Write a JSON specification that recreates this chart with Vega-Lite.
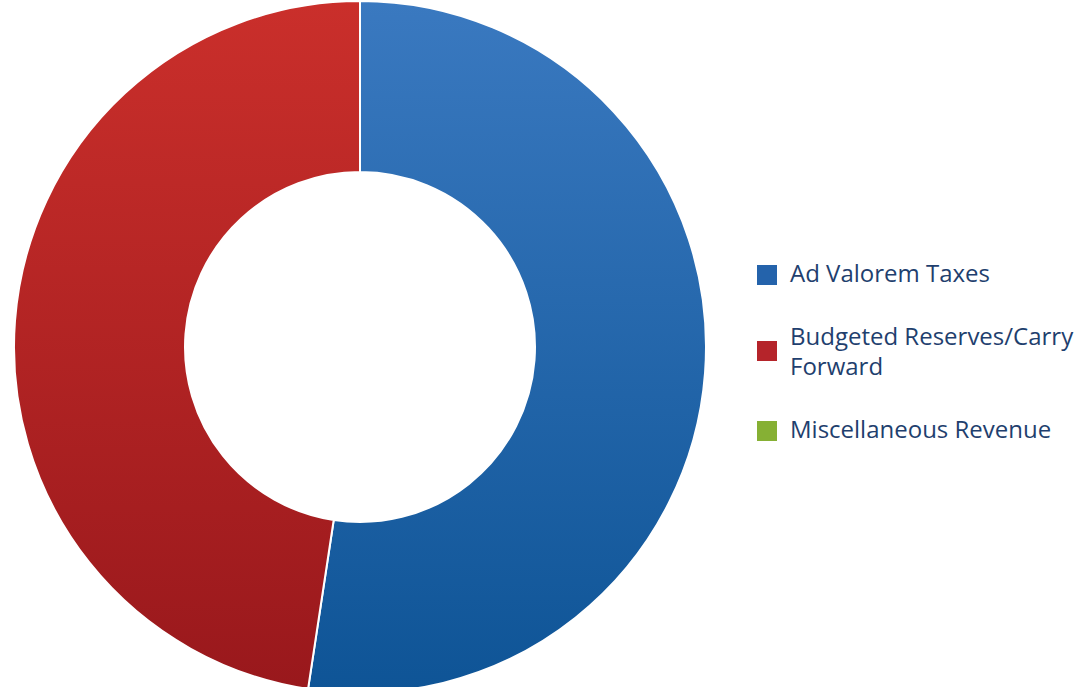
{
  "$schema": "https://vega.github.io/schema/vega-lite/v6.json",
  "width": 720,
  "height": 694,
  "padding": {"left": 0, "top": 0, "right": 362, "bottom": 0},
  "autosize": "none",
  "background": "#ffffff",
  "data": {
    "values": [
      {"source": "Ad Valorem Taxes", "amount": 52.4, "order": 1},
      {"source": "Budgeted Reserves/Carry Forward", "amount": 47.6, "order": 2},
      {"source": "Miscellaneous Revenue", "amount": 0, "order": 3}
    ]
  },
  "transform": [
    {"stack": "amount", "groupby": [], "sort": [{"field": "order"}], "as": ["t0", "t1"]}
  ],
  "layer": [
    {
      "mark": {"type": "arc", "outerRadius": 346, "innerRadius": 175, "stroke": "#ffffff", "strokeWidth": 2},
      "encoding": {
        "theta": {"field": "t0", "type": "quantitative", "scale": {"domain": [0, 100]}},
        "theta2": {"field": "t1"},
        "color": {
          "field": "source",
          "type": "nominal",
          "sort": ["Ad Valorem Taxes", "Budgeted Reserves/Carry Forward", "Miscellaneous Revenue"],
          "scale": {
            "domain": ["Ad Valorem Taxes", "Budgeted Reserves/Carry Forward", "Miscellaneous Revenue"],
            "range": ["#2463ab", "#b5242a", "#86b034"]
          },
          "legend": {
            "title": null,
            "orient": "none",
            "legendX": 755,
            "legendY": 263,
            "symbolType": "square",
            "symbolSize": 400,
            "symbolStrokeWidth": 0,
            "symbolOpacity": 1,
            "labelFont": "Open Sans",
            "labelFontSize": 24,
            "labelColor": "#1f3f6e",
            "labelOffset": 11,
            "labelLimit": 400,
            "rowPadding": 39,
            "labelExpr": "datum.label == 'Budgeted Reserves/Carry Forward' ? ['Budgeted Reserves/Carry', 'Forward'] : datum.label",
            "encoding": {
              "labels": {
                "lineHeight": {"value": 30},
                "dy": {
                  "condition": {"test": "datum.value == 'Budgeted Reserves/Carry Forward'", "value": -13},
                  "value": 0
                }
              }
            }
          }
        }
      }
    },
    {
      "transform": [{"filter": "datum.source == 'Ad Valorem Taxes'"}],
      "mark": {
        "type": "arc", "outerRadius": 346, "innerRadius": 175, "stroke": "#ffffff", "strokeWidth": 2,
        "color": {"gradient": "linear", "x1": 0, "y1": 0, "x2": 0, "y2": 1,
          "stops": [{"offset": 0, "color": "#3a79c0"}, {"offset": 1, "color": "#0e5496"}]}
      },
      "encoding": {
        "theta": {"field": "t0", "type": "quantitative"},
        "theta2": {"field": "t1"}
      }
    },
    {
      "transform": [{"filter": "datum.source == 'Budgeted Reserves/Carry Forward'"}],
      "mark": {
        "type": "arc", "outerRadius": 346, "innerRadius": 175, "stroke": "#ffffff", "strokeWidth": 2,
        "color": {"gradient": "linear", "x1": 0, "y1": 0, "x2": 0, "y2": 1,
          "stops": [{"offset": 0, "color": "#ca2f2b"}, {"offset": 1, "color": "#99181c"}]}
      },
      "encoding": {
        "theta": {"field": "t0", "type": "quantitative"},
        "theta2": {"field": "t1"}
      }
    }
  ],
  "config": {"view": {"stroke": null}}
}
